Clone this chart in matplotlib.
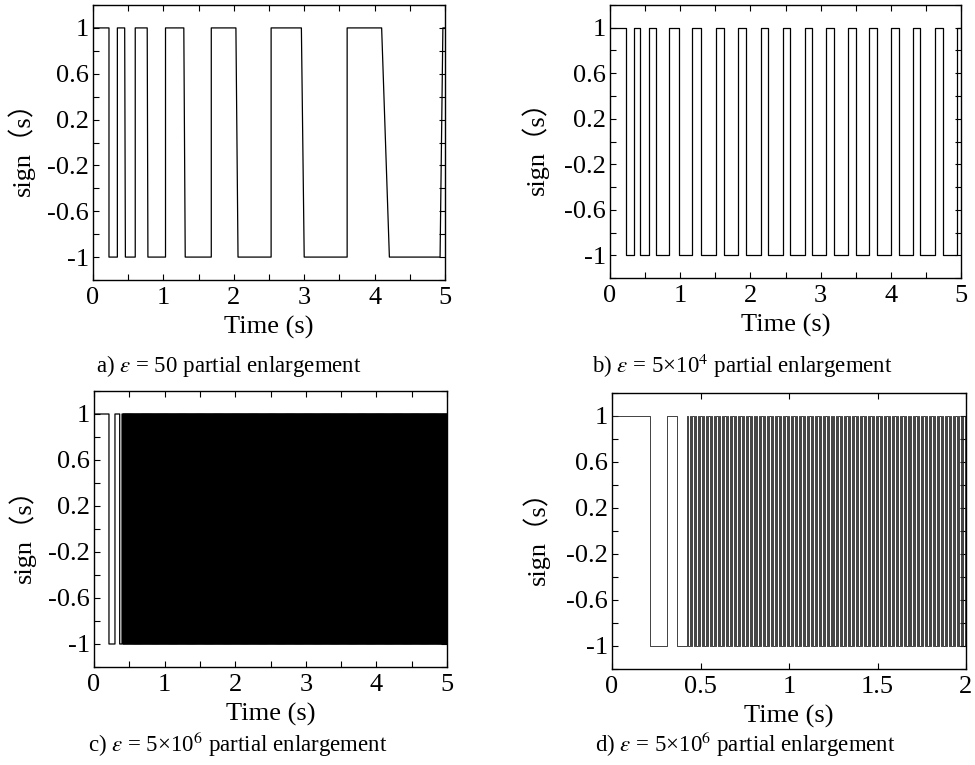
import numpy as np
import matplotlib
matplotlib.use("Agg")
import matplotlib.pyplot as plt
from matplotlib.ticker import MultipleLocator

plt.rcParams['font.family'] = ['Liberation Serif', 'Noto Sans CJK SC', 'DejaVu Sans']
plt.rcParams['mathtext.fontset'] = 'stix'

# ---------------- dados ----------------
# a) eps = 50 : instantes de comutacao (inicio e fim de cada borda)
a_ini = [0.227, 0.346, 0.450, 0.600, 0.770, 1.030, 1.290, 1.680, 2.030, 2.530, 2.960, 3.610, 4.100, 4.930]
a_fim = [0.227, 0.346, 0.460, 0.600, 0.780, 1.030, 1.310, 1.680, 2.060, 2.530, 3.000, 3.610, 4.210, 4.970]

# b) eps = 5e4
b_t = [0.228, 0.342, 0.428, 0.551, 0.656, 0.836, 0.979, 1.174, 1.302, 1.507,
       1.625, 1.830, 1.944, 2.144, 2.253, 2.462, 2.567, 2.776, 2.880, 3.080,
       3.184, 3.393, 3.498, 3.693, 3.797, 4.006, 4.116, 4.316, 4.420, 4.624,
       4.738, 4.938]

# c) e d) eps = 5e6 : primeiras comutacoes e depois chattering
c_t = [0.212, 0.297, 0.364, 0.397]
c_chat_ini = 0.410
d_t = [0.217, 0.313, 0.365, 0.426]
d_chat_ini = 0.432
periodo_chat = 0.015   # periodo aproximado do chattering (lido em d)

legendas = [r"a) $\varepsilon$ = 50 partial enlargement",
            r"b) $\varepsilon$ = 5×10$^{4}$ partial enlargement",
            r"c) $\varepsilon$ = 5×10$^{6}$ partial enlargement",
            r"d) $\varepsilon$ = 5×10$^{6}$ partial enlargement"]


def monta_degraus(t_ini, t_fim, t_max):
    x = [0.0]
    y = [1.0]
    nivel = 1.0
    for ti, tf in zip(t_ini, t_fim):
        x += [ti, tf]
        y += [nivel, -nivel]
        nivel = -nivel
    x.append(t_max)
    y.append(nivel)
    return np.array(x), np.array(y)


def formata_eixo(ax, xmax, xmaj, xmin_step):
    ax.set_xlim(0, xmax)
    ax.set_ylim(-1.2, 1.2)
    ax.set_yticks([1, 0.6, 0.2, -0.2, -0.6, -1])
    ax.set_yticklabels(['1', '0.6', '0.2', '-0.2', '-0.6', '-1'])
    ax.yaxis.set_minor_locator(MultipleLocator(0.2))
    ax.xaxis.set_major_locator(MultipleLocator(xmaj))
    if xmin_step:
        ax.xaxis.set_minor_locator(MultipleLocator(xmin_step))
    ax.tick_params(which='both', direction='in', top=True, right=True,
                   length=4, width=0.8, labelsize=19, pad=3)
    ax.tick_params(axis='x', pad=5)
    ax.set_xlabel("Time (s)", fontsize=19, labelpad=5)
    ax.set_ylabel("sign（s）", fontsize=19)
    for s in ax.spines.values():
        s.set_linewidth(1.0)


fig = plt.figure(figsize=(9.75, 7.65), dpi=100)
W, H = 975.0, 765.0
caixas = [(93, 5, 445, 280), (610, 5, 961, 278), (94, 391, 447, 667), (612, 393, 966, 669)]
eixos = []
for (l, t, r, b) in caixas:
    eixos.append(fig.add_axes([l / W, 1 - b / H, (r - l) / W, (b - t) / H]))

# a)
ax = eixos[0]
x, y = monta_degraus(a_ini, a_fim, 5.0)
ax.plot(x, y, color='black', lw=0.9)
formata_eixo(ax, 5, 1, 0.5)
ax.yaxis.set_label_coords(-0.165, 0.5)

# b)
ax = eixos[1]
x, y = monta_degraus(b_t, b_t, 5.0)
ax.plot(x, y, color='black', lw=0.9)
formata_eixo(ax, 5, 1, 0.5)
ax.yaxis.set_label_coords(-0.175, 0.5)

# c)
ax = eixos[2]
ct = list(c_t) + list(np.arange(c_chat_ini, 5.0, periodo_chat / 2))
x, y = monta_degraus(ct, ct, 5.0)
ax.plot(x, y, color='black', lw=0.9)
formata_eixo(ax, 5, 1, 0.5)
ax.yaxis.set_label_coords(-0.165, 0.5)

# d)
ax = eixos[3]
dt = list(d_t) + list(np.arange(d_chat_ini, 2.0, periodo_chat / 2))
x, y = monta_degraus(dt, dt, 2.0)
ax.plot(x, y, color='#222222', lw=0.6)
formata_eixo(ax, 2, 0.5, None)
ax.set_xticks([0, 0.5, 1, 1.5, 2])
ax.set_xticklabels(['0', '0.5', '1', '1.5', '2'])
ax.yaxis.set_label_coords(-0.175, 0.5)

# legendas embaixo de cada painel
pos_leg = [(229, 366), (742, 366), (238, 744), (745, 744)]
for (cx, cy), txt in zip(pos_leg, legendas):
    fig.text(cx / W, 1 - cy / H, txt, ha='center', va='center', fontsize=16.5)

plt.savefig("out.png", dpi=100)
